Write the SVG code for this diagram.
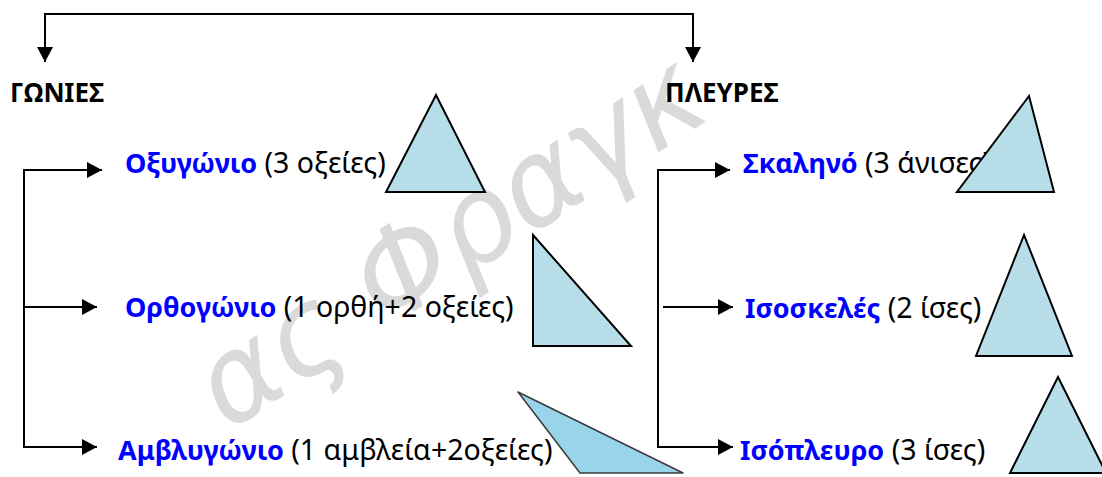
<svg xmlns="http://www.w3.org/2000/svg" width="1102" height="477" viewBox="0 0 1102 477">
  <style>
    .wire { fill: none; stroke: #000; stroke-width: 2; }
    .head { font-family: "Noto Sans", "DejaVu Sans", sans-serif; font-weight: bold; font-size: 26px; fill: #000; }
    .label { font-family: "Noto Sans", "DejaVu Sans", sans-serif; font-size: 28.5px; fill: #000; }
    .name { font-weight: bold; font-size: 27px; fill: #0000ff; }
    .tri { fill: #b7dde8; stroke: #000; stroke-width: 2; stroke-linejoin: miter; }
    .mark { font-family: "DejaVu Sans", sans-serif; font-style: italic; font-size: 120px; fill: #dadada; }
  </style>
  <defs>
    <marker id="arrow" markerUnits="userSpaceOnUse" markerWidth="16" markerHeight="16" refX="15" refY="8" orient="auto-start-reverse">
      <path d="M0,0 L15,8 L0,16 Z" fill="#000"/>
    </marker>
  </defs>

  <rect width="1102" height="477" fill="#fff"/>

  <!-- faint signature behind the chart -->
  <g id="watermark">
    <text class="mark" transform="translate(228,432) rotate(-33)">ας Φραγκ</text>
  </g>

  <g id="node-gonies">
    <text class="head" x="10" y="102">ΓΩΝΙΕΣ</text>
  </g>
  <g id="node-pleures">
    <text class="head" x="665" y="102">ΠΛΕΥΡΕΣ</text>
  </g>

  <g id="node-oxygonio">
    <text class="label" x="125" y="173"><tspan class="name">Οξυγώνιο</tspan> (3 οξείες)</text>
    <polygon class="tri" points="436,95 386,192 485,192"/>
  </g>
  <g id="node-orthogonio">
    <text class="label" x="125" y="317"><tspan class="name">Ορθογώνιο</tspan> (1 ορθή+2 οξείες)</text>
    <polygon class="tri" points="533,235 533,346 631,346"/>
  </g>
  <g id="node-amvlygonio">
    <!-- pasted picture: white backing box with a softer outlined triangle -->
    <rect x="517" y="388" width="172" height="89" fill="#fff"/>
    <polygon points="518,392 580,473 683,473" fill="#98d4ea" stroke="#3a3a3a" stroke-width="1.5" stroke-linejoin="round"/>
    <text class="label" x="118" y="460"><tspan class="name">Αμβλυγώνιο</tspan> (1 αμβλεία+2οξείες)</text>
  </g>

  <g id="node-skalino">
    <text class="label" x="743" y="173"><tspan class="name">Σκαληνό</tspan> (3 άνισες)</text>
    <polygon class="tri" points="1029,96 957,192 1054,192"/>
  </g>
  <g id="node-isoskeles">
    <text class="label" x="745" y="318"><tspan class="name">Ισοσκελές</tspan> (2 ίσες)</text>
    <polygon class="tri" points="1024,235 976,356 1072,356"/>
  </g>
  <g id="node-isopleuro">
    <text class="label" x="740" y="460"><tspan class="name">Ισόπλευρο</tspan> (3 ίσες)</text>
    <polygon class="tri" points="1058,377 1010,473 1106,473"/>
  </g>

  <!-- connectors, drawn last so they stay above the pasted picture -->
  <g id="connectors">
    <path class="wire" d="M45,62 V14 H693 V62" marker-start="url(#arrow)" marker-end="url(#arrow)"/>
    <path class="wire" d="M102,170 H24 V447 H97" marker-start="url(#arrow)" marker-end="url(#arrow)"/>
    <path class="wire" d="M24,307 H97" marker-end="url(#arrow)"/>
    <path class="wire" d="M730,170 H658 V447 H733" marker-start="url(#arrow)" marker-end="url(#arrow)"/>
    <path class="wire" d="M663,307 H733" marker-end="url(#arrow)"/>
  </g>
</svg>
